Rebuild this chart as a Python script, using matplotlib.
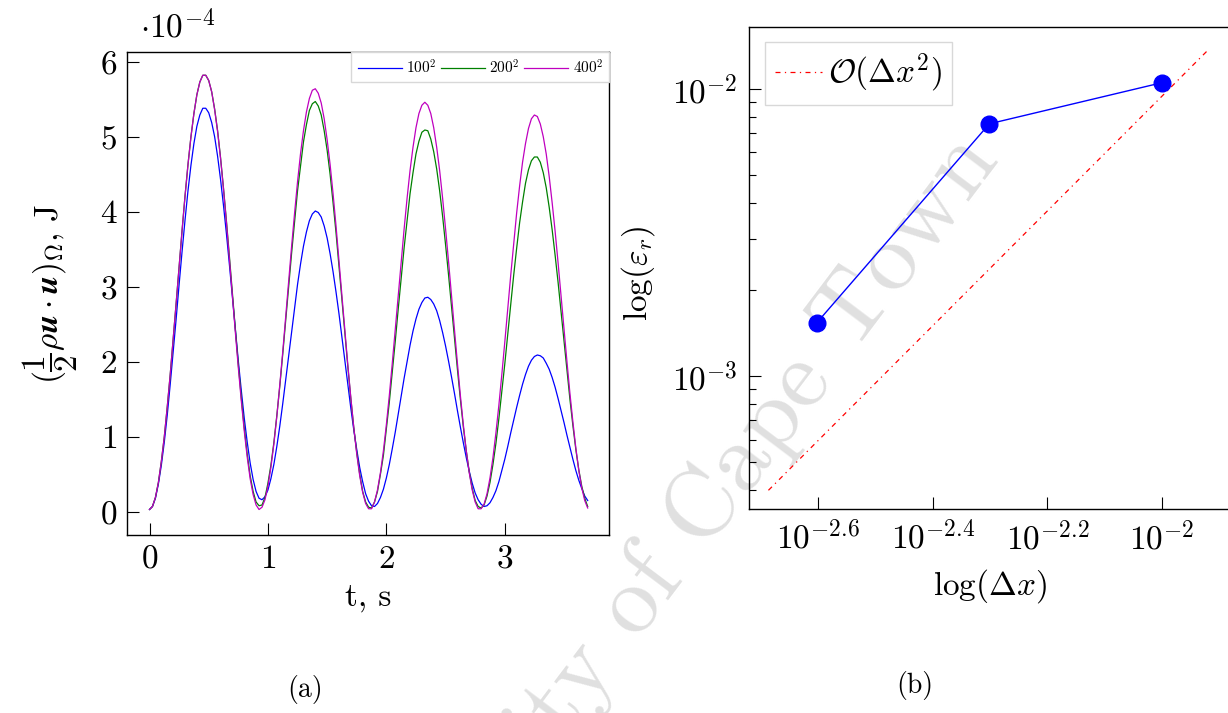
import numpy as np
import matplotlib
matplotlib.use("Agg")
import matplotlib.pyplot as plt
from matplotlib.ticker import FixedLocator, LogLocator, NullFormatter, NullLocator

plt.rcParams["font.family"] = "serif"
plt.rcParams["font.serif"] = ["cmr10"]
plt.rcParams["mathtext.fontset"] = "cm"
plt.rcParams["axes.formatter.use_mathtext"] = True

# (a) kinetic energy vs time, values in units of 1e-4 J
t = [0.000, 0.025, 0.050, 0.075, 0.100, 0.125, 0.150, 0.175, 0.200, 0.225,
     0.250, 0.275, 0.300, 0.325, 0.350, 0.375, 0.400, 0.425, 0.450, 0.475,
     0.500, 0.525, 0.550, 0.575, 0.600, 0.625, 0.650, 0.675, 0.700, 0.725,
     0.750, 0.775, 0.800, 0.825, 0.850, 0.875, 0.900, 0.925, 0.950, 0.975,
     1.000, 1.025, 1.050, 1.075, 1.100, 1.125, 1.150, 1.175, 1.200, 1.225,
     1.250, 1.275, 1.300, 1.325, 1.350, 1.375, 1.400, 1.425, 1.450, 1.475,
     1.500, 1.525, 1.550, 1.575, 1.600, 1.625, 1.650, 1.675, 1.700, 1.725,
     1.750, 1.775, 1.800, 1.825, 1.850, 1.875, 1.900, 1.925, 1.950, 1.975,
     2.000, 2.025, 2.050, 2.075, 2.100, 2.125, 2.150, 2.175, 2.200, 2.225,
     2.250, 2.275, 2.300, 2.325, 2.350, 2.375, 2.400, 2.425, 2.450, 2.475,
     2.500, 2.525, 2.550, 2.575, 2.600, 2.625, 2.650, 2.675, 2.700, 2.725,
     2.750, 2.775, 2.800, 2.825, 2.850, 2.875, 2.900, 2.925, 2.950, 2.975,
     3.000, 3.025, 3.050, 3.075, 3.100, 3.125, 3.150, 3.175, 3.200, 3.225,
     3.250, 3.275, 3.300, 3.325, 3.350, 3.375, 3.400, 3.425, 3.450, 3.475,
     3.500, 3.525, 3.550, 3.575, 3.600, 3.625, 3.650, 3.675, 3.700]

ke_100 = [0.03, 0.07, 0.18, 0.37, 0.62, 0.93, 1.29, 1.70, 2.13, 2.57,
          3.03, 3.47, 3.89, 4.28, 4.62, 4.91, 5.14, 5.29, 5.38, 5.38,
          5.32, 5.19, 5.00, 4.74, 4.43, 4.08, 3.70, 3.29, 2.86, 2.43,
          2.01, 1.62, 1.25, 0.93, 0.65, 0.43, 0.27, 0.18, 0.16, 0.20,
          0.29, 0.44, 0.63, 0.87, 1.14, 1.44, 1.76, 2.09, 2.41, 2.73,
          3.03, 3.30, 3.54, 3.73, 3.88, 3.97, 4.01, 3.99, 3.93, 3.81,
          3.65, 3.44, 3.20, 2.93, 2.64, 2.33, 2.01, 1.69, 1.38, 1.09,
          0.83, 0.59, 0.40, 0.24, 0.14, 0.08, 0.07, 0.11, 0.19, 0.30,
          0.45, 0.63, 0.84, 1.06, 1.30, 1.54, 1.78, 2.00, 2.22, 2.41,
          2.57, 2.70, 2.79, 2.85, 2.86, 2.83, 2.77, 2.68, 2.55, 2.39,
          2.21, 2.01, 1.80, 1.58, 1.35, 1.13, 0.92, 0.72, 0.54, 0.38,
          0.25, 0.16, 0.10, 0.07, 0.08, 0.12, 0.19, 0.28, 0.40, 0.55,
          0.70, 0.87, 1.05, 1.22, 1.39, 1.55, 1.70, 1.83, 1.94, 2.02,
          2.07, 2.09, 2.08, 2.05, 1.98, 1.90, 1.79, 1.66, 1.51, 1.35,
          1.19, 1.02, 0.86, 0.70, 0.55, 0.42, 0.31, 0.21, 0.15]

ke_200 = [0.03, 0.07, 0.19, 0.39, 0.67, 1.00, 1.40, 1.83, 2.30, 2.78,
          3.27, 3.75, 4.21, 4.63, 5.00, 5.31, 5.56, 5.73, 5.82, 5.82,
          5.75, 5.60, 5.37, 5.08, 4.72, 4.31, 3.87, 3.40, 2.91, 2.43,
          1.96, 1.52, 1.12, 0.77, 0.48, 0.27, 0.13, 0.08, 0.09, 0.19,
          0.38, 0.62, 0.92, 1.28, 1.67, 2.10, 2.55, 3.00, 3.45, 3.87,
          4.28, 4.61, 4.93, 5.16, 5.35, 5.44, 5.47, 5.41, 5.29, 5.08,
          4.82, 4.50, 4.12, 3.72, 3.27, 2.83, 2.37, 1.93, 1.51, 1.12,
          0.79, 0.50, 0.27, 0.13, 0.06, 0.05, 0.13, 0.27, 0.50, 0.75,
          1.10, 1.46, 1.86, 2.27, 2.70, 3.11, 3.52, 3.88, 4.24, 4.52,
          4.77, 4.94, 5.06, 5.09, 5.08, 4.97, 4.80, 4.57, 4.28, 3.94,
          3.56, 3.16, 2.74, 2.32, 1.90, 1.50, 1.13, 0.81, 0.53, 0.31,
          0.15, 0.07, 0.05, 0.09, 0.21, 0.39, 0.63, 0.91, 1.24, 1.60,
          1.97, 2.37, 2.76, 3.15, 3.51, 3.85, 4.13, 4.38, 4.56, 4.68,
          4.73, 4.73, 4.66, 4.52, 4.32, 4.06, 3.76, 3.42, 3.06, 2.67,
          2.27, 1.88, 1.50, 1.15, 0.83, 0.56, 0.34, 0.18, 0.07]

ke_400 = [0.03, 0.07, 0.19, 0.39, 0.67, 1.00, 1.40, 1.83, 2.30, 2.78,
          3.27, 3.75, 4.21, 4.63, 5.00, 5.31, 5.56, 5.73, 5.82, 5.82,
          5.75, 5.60, 5.36, 5.07, 4.71, 4.30, 3.85, 3.37, 2.88, 2.39,
          1.92, 1.48, 1.08, 0.73, 0.44, 0.23, 0.09, 0.03, 0.06, 0.16,
          0.34, 0.59, 0.90, 1.27, 1.69, 2.13, 2.60, 3.07, 3.54, 3.98,
          4.40, 4.77, 5.08, 5.33, 5.51, 5.62, 5.64, 5.58, 5.45, 5.24,
          4.96, 4.63, 4.24, 3.81, 3.35, 2.88, 2.41, 1.95, 1.52, 1.12,
          0.77, 0.48, 0.26, 0.11, 0.04, 0.04, 0.13, 0.29, 0.52, 0.81,
          1.16, 1.55, 1.98, 2.43, 2.88, 3.34, 3.77, 4.18, 4.55, 4.86,
          5.12, 5.31, 5.42, 5.46, 5.42, 5.31, 5.12, 4.86, 4.55, 4.18,
          3.77, 3.34, 2.88, 2.43, 1.98, 1.55, 1.16, 0.81, 0.52, 0.29,
          0.13, 0.04, 0.04, 0.10, 0.24, 0.45, 0.72, 1.05, 1.42, 1.83,
          2.26, 2.71, 3.15, 3.57, 3.98, 4.34, 4.66, 4.91, 5.11, 5.24,
          5.29, 5.27, 5.17, 5.00, 4.77, 4.47, 4.12, 3.74, 3.32, 2.88,
          2.44, 2.00, 1.58, 1.20, 0.85, 0.55, 0.32, 0.15, 0.05]

mesh_labels = [r"$100^2$", r"$200^2$", r"$400^2$"]

# (b) convergence
dx = [1 / 400, 1 / 200, 1 / 100]
err = [1.53e-3, 7.55e-3, 1.05e-2]
ref_dx = [2.06e-3, 1.21e-2]
ref_err = [4.0e-4, 1.38e-2]

W, H = 1228, 713
fig = plt.figure(figsize=(W / 100, H / 100), dpi=100)

ax1 = fig.add_axes([127 / W, 1 - 535 / H, 482 / W, 483 / H])
ax2 = fig.add_axes([749 / W, 1 - 509 / H, 483 / W, 482 / H])
for ax in (ax1, ax2):
    ax.patch.set_alpha(0)
    for s in ax.spines.values():
        s.set_linewidth(1.0)

# ---- panel (a)
ax1.plot(t, ke_100, color="b", lw=0.9, label=mesh_labels[0])
ax1.plot(t, ke_200, color="g", lw=0.9, label=mesh_labels[1])
ax1.plot(t, ke_400, color="m", lw=0.9, label=mesh_labels[2])
ax1.set_xlim(-0.19, 3.88)
ax1.set_ylim(-0.31, 6.13)
ax1.set_xticks([0, 1, 2, 3])
ax1.set_yticks([0, 1, 2, 3, 4, 5, 6])
ax1.tick_params(direction="in", length=8.5, width=0.8, labelsize=24, pad=7,
                top=False, right=False)
ax1.set_xlabel("t, s", fontsize=24)
ax1.xaxis.set_label_coords(0.5, -0.1)
ax1.set_ylabel(r"$(\dfrac{1}{2}\rho\boldsymbol{u}\cdot\boldsymbol{u})_\Omega$, J", fontsize=24)
ax1.yaxis.set_label_coords(-0.098, 0.5)
leg1 = ax1.legend(loc="upper right", ncol=3, fontsize=11, borderaxespad=0,
                  handlelength=2.9, handletextpad=0.3, columnspacing=0.25,
                  fancybox=False, framealpha=1, edgecolor="#d8d8d8")
leg1.get_frame().set_linewidth(1.0)
fig.text(140 / W, 1 - 38 / H, r"$\cdot 10^{-4}$", fontsize=24, va="baseline")

# ---- panel (b)
ax2.set_xscale("log")
ax2.set_yscale("log")
ax2.plot(ref_dx, ref_err, color="red", lw=0.9, dashes=(4, 3.5, 1, 3.5),
         label=r"$\mathcal{O}(\Delta x^2)$")
ax2.plot(dx, err, "o-", color="b", lw=1.0, ms=12)
ax2.set_xlim(10 ** -2.72, 10 ** -1.878)
ax2.set_ylim(10 ** -3.463, 10 ** -1.785)
ax2.xaxis.set_major_locator(FixedLocator([10 ** -2.6, 10 ** -2.4, 10 ** -2.2, 10 ** -2]))
ax2.set_xticklabels([r"$10^{-2.6}$", r"$10^{-2.4}$", r"$10^{-2.2}$", r"$10^{-2}$"])
ax2.xaxis.set_minor_locator(NullLocator())
ax2.yaxis.set_major_locator(FixedLocator([1e-3, 1e-2]))
ax2.set_yticklabels([r"$10^{-3}$", r"$10^{-2}$"])
ax2.yaxis.set_minor_locator(LogLocator(base=10, subs=np.arange(2, 10)))
ax2.yaxis.set_minor_formatter(NullFormatter())
ax2.tick_params(which="major", direction="in", length=8.5, width=0.8, labelsize=24, pad=8,
                top=False, right=False)
ax2.tick_params(which="minor", direction="in", length=5, width=0.8, top=False, right=False)
ax2.set_xlabel(r"$\log(\Delta x)$", fontsize=24)
ax2.xaxis.set_label_coords(0.5, -0.12)
ax2.set_ylabel(r"$\log(\varepsilon_r)$", fontsize=24)
ax2.yaxis.set_label_coords(-0.19, 0.49)
leg2 = ax2.legend(loc="upper left", bbox_to_anchor=(16 / 483, 1 - 15 / 482),
                  borderaxespad=0, fontsize=24, handlelength=1.4, handletextpad=0.2,
                  borderpad=0.3, fancybox=False, framealpha=1, edgecolor="#d8d8d8")
leg2.get_frame().set_linewidth(1.0)

fig.text(305 / W, 1 - 690 / H, "(a)", fontsize=20, ha="center", va="center")
fig.text(915 / W, 1 - 685 / H, "(b)", fontsize=20, ha="center", va="center")

# watermark
fig.text(1000 / W, 1 - 160 / H, "University of Cape Town", fontsize=70, color="#e0e0e0",
         rotation=53, rotation_mode="anchor", ha="right", va="baseline", zorder=-1)

fig.savefig("out.png", dpi=100)
